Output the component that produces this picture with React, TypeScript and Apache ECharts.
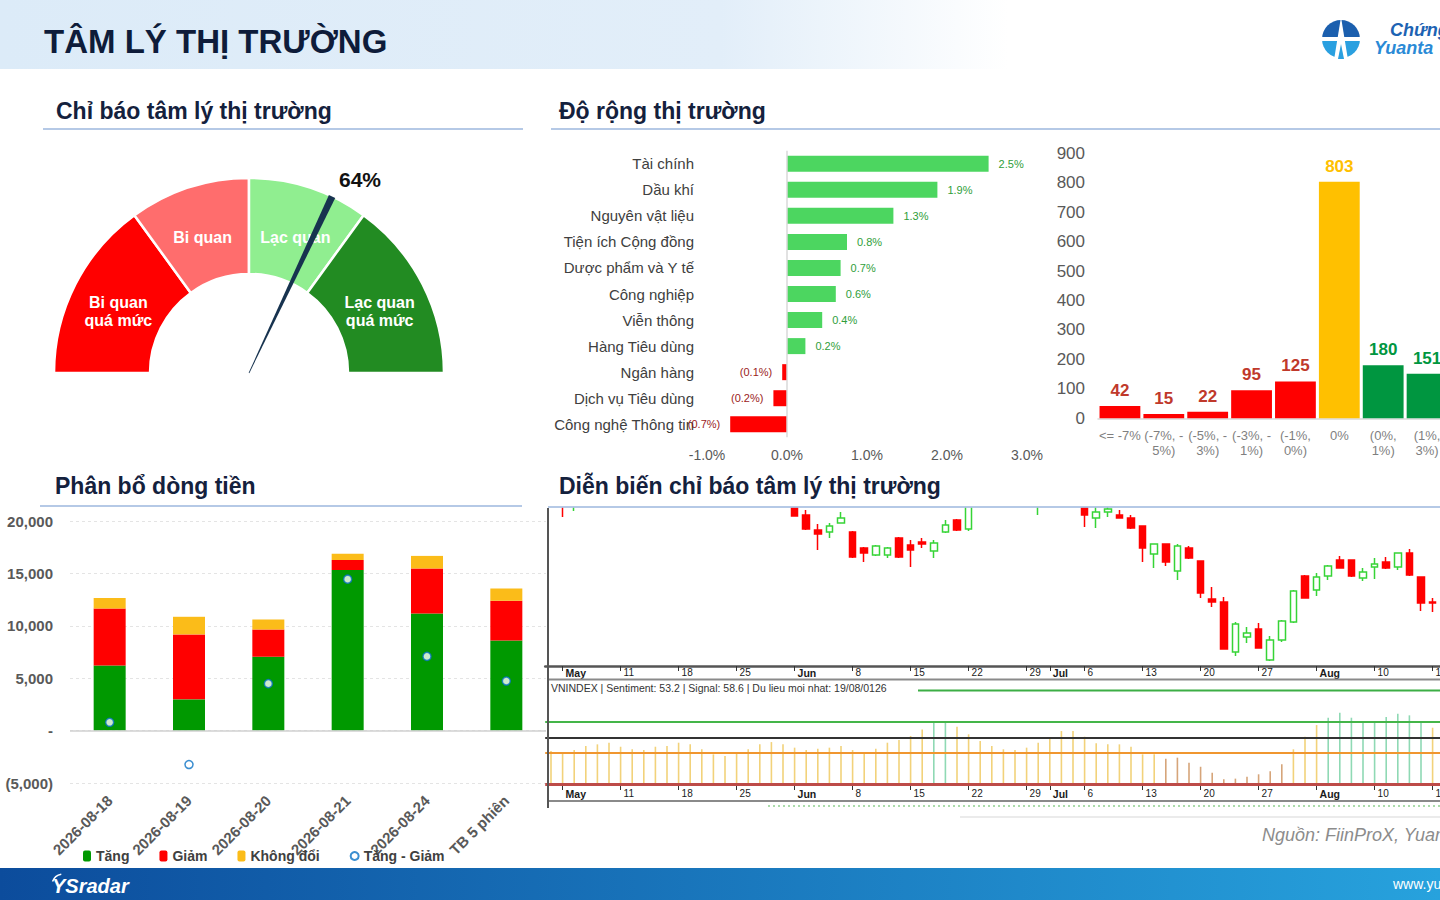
import React, { useEffect, useRef } from 'react';
import * as echarts from 'echarts';

const FONT = '"Liberation Sans", Arial, Helvetica, sans-serif';

// ---------------- data ----------------
const pageTitle = 'TÂM LÝ THỊ TRƯỜNG';
const sectionTitles = [
  'Chỉ báo tâm lý thị trường',
  'Độ rộng thị trường',
  'Phân bổ dòng tiền',
  'Diễn biến chỉ báo tâm lý thị trường',
];

const gaugeBands = [30, 20, 20, 30];
const gaugeBandNames = ['Bi quan\nquá mức', 'Bi quan', 'Lạc quan', 'Lạc quan\nquá mức'];
const gaugeValue = 64;

const sectors = [
  'Tài chính',
  'Dầu khí',
  'Nguyên vật liệu',
  'Tiện ích Cộng đồng',
  'Dược phẩm và Y tế',
  'Công nghiệp',
  'Viễn thông',
  'Hàng Tiêu dùng',
  'Ngân hàng',
  'Dịch vụ Tiêu dùng',
  'Công nghệ Thông tin',
];
const sectorChange = [2.52, 1.88, 1.33, 0.75, 0.67, 0.61, 0.44, 0.23, -0.06, -0.17, -0.71];

const breadthBins = ['<= -7%', '(-7%, -\n5%)', '(-5%, -\n3%)', '(-3%, -\n1%)', '(-1%,\n0%)', '0%', '(0%,\n1%)', '(1%,\n3%)'];
const breadthCounts = [42, 15, 22, 95, 125, 803, 180, 151];

const flowDays = ['2026-08-18', '2026-08-19', '2026-08-20', '2026-08-21', '2026-08-24', 'TB 5 phiên'];
const flowUp = [6200, 2980, 7050, 15330, 11180, 8600];
const flowDown = [5460, 6200, 2600, 950, 4290, 3780];
const flowFlat = [990, 1680, 950, 600, 1200, 1170];
const flowNet = [790, -3240, 4480, 14450, 7080, 4730];

const holidays = ['2026-04-30', '2026-05-01'];
const sessionStart = '2026-04-29';
const sessionEnd = '2026-08-19';
const monthNames = ['Jan', 'Feb', 'Mar', 'Apr', 'May', 'Jun', 'Jul', 'Aug', 'Sep', 'Oct', 'Nov', 'Dec'];

// [open, close, low, high]; null = outside the visible price window
const candles: (number[] | null)[] = [
  null, // 04-29
  [1676, 1666, 1649, 1680],
  [1669, 1676, 1655, 1680],
  ...Array(18).fill(null),
  [1668, 1650, 1650, 1672], // 06-01
  [1651, 1637, 1636, 1656],
  [1636, 1632, 1616, 1642],
  [1634, 1640, 1628, 1643],
  [1643, 1648, 1643, 1654],
  [1634, 1609, 1608, 1635], // 06-08
  [1618, 1613, 1604, 1619],
  [1611, 1620, 1610, 1621],
  [1611, 1618, 1608, 1619],
  [1628, 1609, 1608, 1629],
  [1621, 1616, 1599, 1626], // 06-15
  [1624, 1622, 1618, 1628],
  [1615, 1623, 1608, 1626],
  [1634, 1641, 1633, 1646],
  [1646, 1636, 1635, 1647],
  [1637, 1666, 1635, 1670], // 06-22
  null, null, null, null, null,
  [1668, 1676, 1651, 1680], // 06-30
  null, null, null,
  [1666, 1651, 1639, 1670], // 07-06
  [1648, 1654, 1638, 1660],
  [1654, 1657, 1649, 1661],
  [1651, 1648, 1648, 1656],
  [1648, 1638, 1637, 1651],
  [1640, 1618, 1604, 1640], // 07-13
  [1612, 1622, 1598, 1622],
  [1622, 1604, 1600, 1622],
  [1595, 1620, 1586, 1622],
  [1618, 1608, 1607, 1620],
  [1605, 1573, 1568, 1605], // 07-20
  [1567, 1564, 1559, 1579],
  [1564, 1517, 1517, 1569],
  [1514, 1542, 1510, 1544],
  [1529, 1533, 1523, 1539],
  [1537, 1518, 1518, 1543], // 07-27
  [1506, 1526, 1505, 1530],
  [1526, 1545, 1524, 1546],
  [1544, 1575, 1543, 1576],
  [1590, 1568, 1568, 1591],
  [1576, 1589, 1570, 1593], // 08-03
  [1590, 1600, 1586, 1601],
  [1606, 1598, 1598, 1610],
  [1606, 1590, 1589, 1606],
  [1588, 1594, 1585, 1598],
  [1599, 1602, 1587, 1608], // 08-10
  [1604, 1598, 1597, 1609],
  [1599, 1613, 1596, 1613],
  [1613, 1591, 1590, 1617],
  [1589, 1563, 1555, 1589],
  [1564, 1563, 1554, 1568], // 08-17
  null, null,
];

const sentiment: (number | null)[] = [
  51.9, 49.7, 52.9, 56.8, 58.4, 60.0, 56.1, 53.6, 52.9, 56.1,
  56.8, 60.0, 58.4, 53.6, 48.7, 47.1, 49.7, 53.6, 58.4, 60.6,
  58.4, 55.2, 52.9, 54.2, 55.2, 56.8, 52.9, 49.7, 54.2, 60.0,
  62.6, 66.5, 72.9, 79.4, 80.0, 75.5, 68.1, 61.6, 56.8, 53.6,
  52.9, 55.2, 60.0, 64.8, 71.3, 71.3, 65.8, 59.4, 58.4, 58.4,
  56.1, 48.7, 48.7, 44.5, 45.5, 40.6, 36.7, 30.9, 24.5, 25.2,
  27.1, 29.4, 32.3, 39.1, 53.6, 65.8, 77.1, 84.2, 89.0, 84.2,
  81.0, 80.0, 84.8, 88.0, 86.5, 81.0, 74.5, null, null,
];
const sentimentLevels = [80, 65, 50, 20];
const infoLine = 'VNINDEX | Sentiment: 53.2 | Signal: 58.6 | Du lieu moi nhat: 19/08/0126';
const sourceText = 'Nguồn: FiinProX, Yuanta';

// ---------------- helpers ----------------
function tradingDays(): string[] {
  const out: string[] = [];
  const d = new Date(sessionStart + 'T00:00:00Z');
  const end = new Date(sessionEnd + 'T00:00:00Z').getTime();
  while (d.getTime() <= end) {
    const wd = d.getUTCDay();
    const s = d.toISOString().slice(0, 10);
    if (wd !== 0 && wd !== 6 && holidays.indexOf(s) < 0) out.push(s);
    d.setUTCDate(d.getUTCDate() + 1);
  }
  return out;
}

function text(x: number, y: number, t: string, o: any = {}) {
  return {
    type: 'text',
    x,
    y,
    z: o.z ?? 20,
    silent: true,
    style: {
      text: t,
      fill: o.fill ?? '#14213d',
      fontSize: o.fontSize ?? 14,
      fontWeight: o.fontWeight ?? 'normal',
      fontStyle: o.fontStyle ?? 'normal',
      fontFamily: FONT,
      align: o.align ?? 'left',
      verticalAlign: 'middle',
    },
  };
}

function line(x1: number, y1: number, x2: number, y2: number, stroke: string, w: number, dash?: number[]) {
  return {
    type: 'line',
    z: 20,
    silent: true,
    shape: { x1, y1, x2, y2 },
    style: { stroke, lineWidth: w, lineDash: dash },
  };
}

function buildOption() {
  const dates = tradingDays();
  const dateLabel = (i: number) => {
    const s = dates[i];
    if (!s) return '';
    const d = new Date(s + 'T00:00:00Z');
    const prev = i > 0 ? dates[i - 1] : null;
    if (prev && prev.slice(5, 7) !== s.slice(5, 7)) return '{b|' + monthNames[d.getUTCMonth()] + '}';
    if (d.getUTCDay() === 1) return String(d.getUTCDate());
    return '';
  };
  const showDate = (i: number) => dateLabel(i) !== '';

  const zeroIdx = breadthBins.indexOf('0%');
  const binColor = (i: number) => (i < zeroIdx ? '#ff0000' : i === zeroIdx ? '#ffc000' : '#009640');
  const binLabel = (i: number) => (i < zeroIdx ? '#c0392b' : i === zeroIdx ? '#ffc000' : '#009640');

  const sentColor = (v: number) => (v >= 79 ? '#8fd9b4' : v < 46 ? '#d6a57a' : '#f2d27a');
  const levelStyles = [
    { color: '#44b549', width: 2 },
    { color: '#333333', width: 2 },
    { color: '#f0962f', width: 2 },
    { color: '#bd4b48', width: 3 },
  ];
  const bandLabelPad = [
    [0, 0, 0, 6],
    [0, 0, 0, 0],
    [0, 0, 0, 0],
    [0, 6, 0, 0],
  ];

  const catLeft = 545.2;
  const catWidth = 916.4;

  const headerGrad = new echarts.graphic.LinearGradient(0, 0, 1, 0, [
    { offset: 0, color: '#dcebf8' },
    { offset: 0.5, color: '#e2eef9' },
    { offset: 0.7, color: '#ffffff' },
  ]);
  const footerGrad = new echarts.graphic.LinearGradient(0, 0, 1, 0, [
    { offset: 0, color: '#0c4c9c' },
    { offset: 1, color: '#27a2dd' },
  ]);

  const lcx = 1341;
  const lcy = 39;
  const graphics: any[] = [
    { type: 'rect', z: -10, silent: true, shape: { x: 0, y: 0, width: 1440, height: 69 }, style: { fill: headerGrad } },
    text(44, 41.5, pageTitle, { fontSize: 33, fontWeight: 'bold', fill: '#0e1c3a' }),
    // logo
    { type: 'sector', z: 20, silent: true, shape: { cx: lcx, cy: lcy, r: 19, r0: 0, startAngle: Math.PI, endAngle: Math.PI * 1.5 }, style: { fill: '#1b5fae' } },
    { type: 'sector', z: 20, silent: true, shape: { cx: lcx, cy: lcy, r: 19, r0: 0, startAngle: Math.PI * 1.5, endAngle: Math.PI * 2 }, style: { fill: '#1b5fae' } },
    { type: 'sector', z: 20, silent: true, shape: { cx: lcx, cy: lcy, r: 19, r0: 0, startAngle: 0, endAngle: Math.PI }, style: { fill: '#2aa0e0' } },
    { type: 'rect', z: 21, silent: true, shape: { x: 1320, y: 37, width: 42, height: 4 }, style: { fill: '#ffffff' } },
    { type: 'polygon', z: 21, silent: true, shape: { points: [[lcx, 17], [lcx - 7, 60], [lcx + 7, 60]] }, style: { fill: '#ffffff' } },
    { type: 'polygon', z: 22, silent: true, shape: { points: [[lcx, 44], [lcx - 3, 59], [lcx + 3, 59]] }, style: { fill: '#2aa0e0' } },
    text(1390, 30, 'Chứng khoán', { fontSize: 18, fontWeight: 'bold', fontStyle: 'italic', fill: '#1d63b3' }),
    text(1374, 47.5, 'Yuanta', { fontSize: 18, fontWeight: 'bold', fontStyle: 'italic', fill: '#2a8ad6' }),
    // mask above the price panel (clips candles that run past its top)
    { type: 'rect', z: 18, silent: true, shape: { x: 549, y: 465, width: 900, height: 42.5 }, style: { fill: '#ffffff' } },
    // section titles
    text(56, 110.5, sectionTitles[0], { fontSize: 23, fontWeight: 'bold' }),
    text(559, 110.5, sectionTitles[1], { fontSize: 23, fontWeight: 'bold' }),
    text(55, 486, sectionTitles[2], { fontSize: 23, fontWeight: 'bold' }),
    text(559, 486, sectionTitles[3], { fontSize: 23, fontWeight: 'bold' }),
    line(43, 129, 523, 129, '#9db7de', 1.5),
    line(551, 129, 1440, 129, '#9db7de', 1.5),
    line(40, 506, 522, 506, '#9db7de', 1.5),
    line(548, 507, 1440, 507, '#9db7de', 1.5),
    // sentiment panel frame
    line(548, 679.5, 1440, 679.5, '#8a8a8a', 2),
    text(551, 688, infoLine, { fontSize: 10.5, fill: '#333333' }),
    line(918, 690.5, 1440, 690.5, '#3cae45', 2),
    line(548, 801, 1440, 801, '#8a8a8a', 2),
    line(768, 806, 1440, 806, '#8fd18f', 1.5, [2, 3]),
    line(548, 508, 548, 808, '#555555', 2),
    line(960, 817, 1440, 817, '#ebebeb', 2),
    text(1262, 835, sourceText, { fontSize: 18, fontStyle: 'italic', fill: '#8c8c8c' }),
    // footer
    { type: 'rect', z: 15, silent: true, shape: { x: 0, y: 868, width: 1440, height: 32 }, style: { fill: footerGrad } },
    { type: 'arc', z: 20, silent: true, shape: { cx: 63, cy: 885, r: 11, startAngle: Math.PI * 1.1, endAngle: Math.PI * 1.45 }, style: { stroke: '#ffffff', lineWidth: 1.5, fill: 'none' } },
    text(52, 886, 'YSradar', { fontSize: 20, fontWeight: 'bold', fontStyle: 'italic', fill: '#ffffff' }),
    text(1393, 884, 'www.yuanta.com.vn', { fontSize: 14, fill: '#ffffff' }),
  ];

  return {
    animation: false,
    backgroundColor: '#ffffff',
    textStyle: { fontFamily: FONT },
    graphic: { elements: graphics },
    legend: {
      data: ['Tăng', 'Giảm', 'Không đổi', 'Tăng - Giảm'],
      left: 78,
      top: 844,
      itemWidth: 8,
      itemHeight: 11,
      itemGap: 30,
      selectedMode: false,
      textStyle: { fontSize: 14, fontWeight: 'bold', color: '#404040', fontFamily: FONT },
    },
    grid: [
      { left: 707, top: 150.7, width: 320, height: 286.6, outerBoundsMode: 'none' },
      { left: 1098, top: 153.3, width: 351, height: 265, outerBoundsMode: 'none' },
      { left: 70, top: 521, width: 476, height: 262, outerBoundsMode: 'none' },
      { left: catLeft, top: 508, width: catWidth, height: 158, outerBoundsMode: 'none' },
      { left: catLeft, top: 701.4, width: catWidth, height: 82.6, outerBoundsMode: 'none' },
    ],
    xAxis: [
      {
        type: 'value', gridIndex: 0, min: -1, max: 3, interval: 1,
        axisLine: { show: false }, axisTick: { show: false }, splitLine: { show: false },
        axisLabel: { formatter: (v: number) => v.toFixed(1) + '%', fontSize: 14, color: '#595959', margin: 11 },
      },
      {
        type: 'category', gridIndex: 1, data: breadthBins,
        axisLine: { lineStyle: { color: '#d9d9d9', width: 1.5 } }, axisTick: { show: false },
        axisLabel: { interval: 0, fontSize: 13, color: '#7f7f7f', lineHeight: 15.5, margin: 9 },
      },
      {
        type: 'category', gridIndex: 2, data: flowDays,
        axisLine: { show: false, onZero: false }, axisTick: { show: false },
        axisLabel: { interval: 0, rotate: 45, fontSize: 15, fontWeight: 'bold', color: '#595959', margin: 15 },
      },
      {
        type: 'category', gridIndex: 3, data: dates,
        axisLine: { onZero: false, lineStyle: { color: '#555555', width: 2.5 } },
        axisTick: { show: true, alignWithLabel: true, interval: showDate, length: 5, lineStyle: { color: '#333333' } },
        axisLabel: {
          interval: showDate, formatter: (_v: string, i: number) => dateLabel(i), align: 'left',
          padding: [0, 0, 0, 3], fontSize: 10, color: '#1a1a1a', margin: 1,
          rich: { b: { fontWeight: 'bold', fontSize: 10.5, color: '#1a1a1a' } },
        },
      },
      {
        type: 'category', gridIndex: 4, data: dates,
        axisLine: { show: false, onZero: false },
        axisTick: { show: true, alignWithLabel: true, interval: showDate, length: 6, lineStyle: { color: '#333333' } },
        axisLabel: {
          interval: showDate, formatter: (_v: string, i: number) => dateLabel(i), align: 'left',
          padding: [0, 0, 0, 3], fontSize: 10, color: '#1a1a1a', margin: 4,
          rich: { b: { fontWeight: 'bold', fontSize: 10.5, color: '#1a1a1a' } },
        },
      },
    ],
    yAxis: [
      {
        type: 'category', gridIndex: 0, data: sectors, inverse: true,
        axisLine: { show: false, onZero: false }, axisTick: { show: false },
        axisLabel: { interval: 0, fontSize: 15, color: '#404040', margin: 13 },
      },
      {
        type: 'value', gridIndex: 1, min: 0, max: 900, interval: 100,
        axisLine: { show: false }, axisTick: { show: false }, splitLine: { show: false },
        axisLabel: { fontSize: 17, color: '#595959', margin: 13 },
      },
      {
        type: 'value', gridIndex: 2, min: -5000, max: 20000, interval: 5000,
        axisLine: { show: false }, axisTick: { show: false },
        splitLine: { lineStyle: { color: '#e4e4e4', type: [3, 3] } },
        axisLabel: {
          fontSize: 15, fontWeight: 'bold', color: '#595959', margin: 17,
          formatter: (v: number) => (v === 0 ? '-' : v < 0 ? '(' + Math.abs(v).toLocaleString('en-US') + ')' : v.toLocaleString('en-US')),
        },
      },
      { type: 'value', gridIndex: 3, min: 1500, max: 1658, show: false, splitLine: { show: false } },
      { type: 'value', gridIndex: 4, min: 20, max: 100, show: false, splitLine: { show: false } },
    ],
    series: [
      // gauge bands
      {
        type: 'pie', silent: true, z: 2, center: [249, 373], radius: [99, 195], startAngle: 180, clockwise: true,
        label: { show: true, position: 'inside', color: '#ffffff', fontSize: 16, fontWeight: 'bold', lineHeight: 18, fontFamily: FONT },
        labelLine: { show: false },
        labelLayout: { dy: 7 },
        emphasis: { disabled: true },
        itemStyle: { borderColor: '#ffffff', borderWidth: 2.5 },
        data: [
          ...gaugeBands.map((v, i) => ({
            value: v,
            name: gaugeBandNames[i],
            itemStyle: { color: ['#ff0000', '#ff6d6d', '#90ee90', '#228b22'][i] },
            label: { padding: bandLabelPad[i] },
          })),
          {
            value: gaugeBands.reduce((a, b) => a + b, 0),
            name: '',
            itemStyle: { color: 'rgba(0,0,0,0)', borderWidth: 0 },
            label: { show: false },
          },
        ],
      },
      {
        type: 'gauge', silent: true, z: 10, center: [249, 373], radius: 195, startAngle: 180, endAngle: 0, min: 0, max: 100,
        axisLine: { show: false }, axisTick: { show: false }, splitLine: { show: false }, axisLabel: { show: false },
        anchor: { show: false }, title: { show: false }, progress: { show: false },
        pointer: {
          show: true, showAbove: true, icon: 'path://M0 0 L6 0 L3.3 100 L2.7 100 Z', length: '100%', width: 7, offsetCenter: [0, 0],
          itemStyle: { color: '#17334f' },
        },
        detail: {
          show: true, formatter: '{value}%', offsetCenter: [111, -194], fontSize: 21, fontWeight: 'bold',
          color: '#111111', fontFamily: FONT,
        },
        data: [{ value: gaugeValue }],
      },
      // sector bars
      {
        type: 'bar', xAxisIndex: 0, yAxisIndex: 0, barWidth: 16, silent: true,
        label: {
          show: true, fontSize: 11, distance: 10, fontFamily: FONT,
          formatter: (p: any) => (p.value >= 0 ? p.value.toFixed(1) + '%' : '(' + Math.abs(p.value).toFixed(1) + '%)'),
        },
        data: sectorChange.map((v) => ({
          value: v,
          itemStyle: { color: v >= 0 ? '#4cd660' : '#ff0000' },
          label: { position: v >= 0 ? 'right' : 'left', color: v >= 0 ? '#2f9e3a' : '#9b1c1c' },
        })),
        markLine: {
          silent: true, symbol: 'none', label: { show: false },
          lineStyle: { color: '#d9d9d9', width: 1.5, type: 'solid' },
          data: [{ xAxis: 0 }],
        },
      },
      // breadth histogram
      {
        type: 'bar', xAxisIndex: 1, yAxisIndex: 1, barCategoryGap: '7%', silent: true,
        label: { show: true, position: 'top', distance: 7, fontSize: 17, fontWeight: 'bold', fontFamily: FONT },
        data: breadthCounts.map((v, i) => ({
          value: v,
          itemStyle: { color: binColor(i) },
          label: { color: binLabel(i) },
        })),
      },
      // money flow
      {
        name: 'Tăng', type: 'bar', stack: 'flow', xAxisIndex: 2, yAxisIndex: 2, barWidth: 32, data: flowUp,
        itemStyle: { color: '#009900' }, silent: true,
        markLine: {
          silent: true, symbol: 'none', label: { show: false },
          lineStyle: { color: '#d0d0d0', width: 1.5, type: 'solid' },
          data: [{ yAxis: 0 }],
        },
      },
      { name: 'Giảm', type: 'bar', stack: 'flow', xAxisIndex: 2, yAxisIndex: 2, barWidth: 32, data: flowDown, itemStyle: { color: '#ff0000' }, silent: true },
      { name: 'Không đổi', type: 'bar', stack: 'flow', xAxisIndex: 2, yAxisIndex: 2, barWidth: 32, data: flowFlat, itemStyle: { color: '#fbbc19' }, silent: true },
      {
        name: 'Tăng - Giảm', type: 'scatter', xAxisIndex: 2, yAxisIndex: 2, data: flowNet, symbol: 'circle', symbolSize: 8, z: 5,
        itemStyle: { color: '#ffffff', borderColor: '#0a72c4', borderWidth: 1.5 }, silent: true,
      },
      // candles
      {
        type: 'candlestick', xAxisIndex: 3, yAxisIndex: 3, barWidth: 7, silent: true, clip: true,
        data: candles.map((c) => (c ? c : ['-', '-', '-', '-'])),
        itemStyle: { color: '#ffffff', color0: '#ff0000', borderColor: '#36d436', borderColor0: '#ff0000', borderWidth: 1.5 },
      },
      // sentiment sticks
      {
        type: 'custom', xAxisIndex: 4, yAxisIndex: 4, silent: true, z: 2,
        data: sentiment.map((v, i) => (v == null ? null : [i, v])).filter((d) => d != null),
        encode: { x: 0, y: 1 },
        renderItem: (_p: any, api: any) => {
          const v = api.value(1);
          const top = api.coord([api.value(0), v]);
          const base = api.coord([api.value(0), sentimentLevels[sentimentLevels.length - 1]]);
          return {
            type: 'line',
            shape: { x1: top[0], y1: base[1], x2: top[0], y2: top[1] },
            style: { stroke: sentColor(v), lineWidth: 1.6 },
          };
        },
        markLine: {
          silent: true, symbol: 'none', label: { show: false }, z: 4,
          data: sentimentLevels.map((v, i) => ({ yAxis: v, lineStyle: { ...levelStyles[i], type: 'solid' } })),
        },
      },
    ],
  };
}

export default function App() {
  const ref = useRef<HTMLDivElement>(null);
  useEffect(() => {
    if (!ref.current) return;
    const chart = echarts.init(ref.current, undefined, { renderer: 'svg' });
    chart.setOption(buildOption() as any);
    return () => chart.dispose();
  }, []);
  return (
    <div style={{ position: 'fixed', left: 0, top: 0, width: 1440, height: 900, overflow: 'hidden', background: '#ffffff' }}>
      <div ref={ref} style={{ width: 1440, height: 900 }} />
    </div>
  );
}
